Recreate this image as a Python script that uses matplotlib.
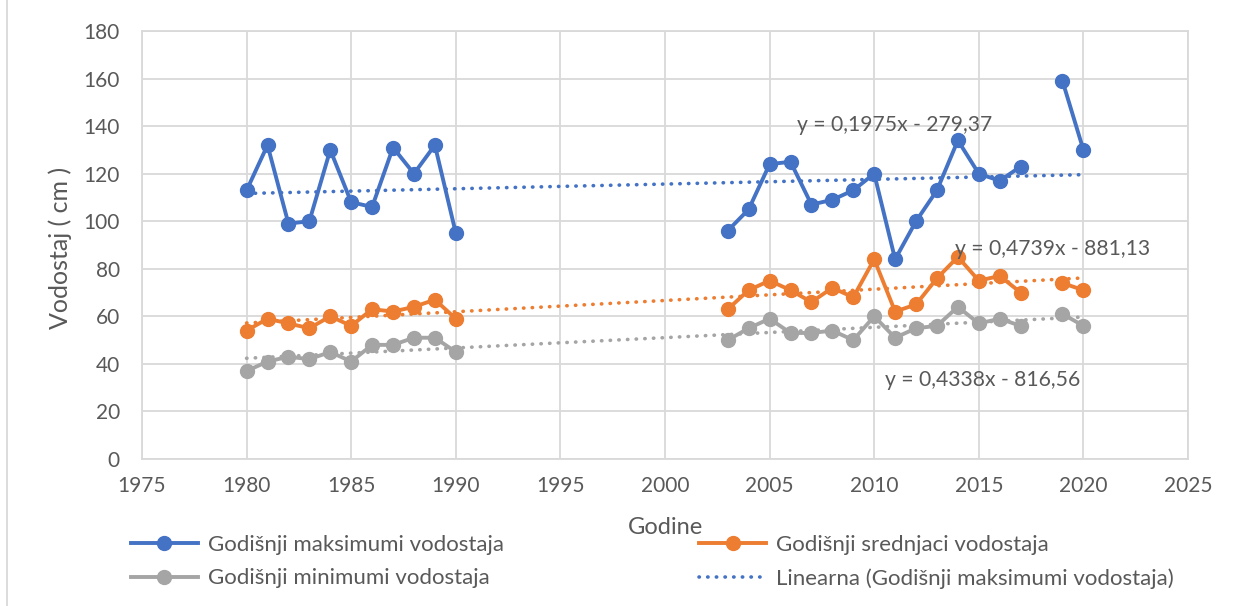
import matplotlib.pyplot as plt
from matplotlib.lines import Line2D
import numpy as np
import pandas as pd

plt.rcParams["font.family"] = ["Lato", "DejaVu Sans"]

# podaci očitani s grafa
godine = list(range(1980, 1991)) + list(range(2003, 2018)) + [2019, 2020]
maksimumi = [113, 132, 99, 100, 130, 108, 106, 131, 120, 132, 95,
             96, 105, 124, 125, 107, 109, 113, 120, 84, 100, 113, 134, 120, 117, 123,
             159, 130]
srednjaci = [54, 59, 57, 55, 60, 56, 63, 62, 64, 67, 59,
             63, 71, 75, 71, 66, 72, 68, 84, 62, 65, 76, 85, 75, 77, 70,
             74, 71]
minimumi = [37, 41, 43, 42, 45, 41, 48, 48, 51, 51, 45,
            50, 55, 59, 53, 53, 54, 50, 60, 51, 55, 56, 64, 57, 59, 56,
            61, 56]

# koeficijenti linearnih trendova (nagib, odsječak)
trend_max = (0.1975, -279.37)
trend_sred = (0.4739, -881.13)
trend_min = (0.4338, -816.56)

nazivi = ["Godišnji maksimumi vodostaja", "Godišnji srednjaci vodostaja",
          "Godišnji minimumi vodostaja", "Linearna (Godišnji maksimumi vodostaja)"]

plava = "#4472C4"
narancasta = "#ED7D31"
siva = "#A5A5A5"
tekst = "#595959"
tockasto = (0, (0.1, 2.3))

df = pd.DataFrame({"max": maksimumi, "sred": srednjaci, "min": minimumi}, index=godine)
df = df.reindex(range(min(godine), max(godine) + 1))  # praznine u nizu -> prekid linije

fig = plt.figure(figsize=(12.39, 6.06), dpi=100)
ax = fig.add_axes([142 / 1239, 1 - 459 / 606, (1188 - 142) / 1239, (459 - 31) / 606])

xt = np.array([min(godine), max(godine)])
for (k, n), c in zip([trend_max, trend_sred, trend_min], [plava, narancasta, siva]):
    ax.plot(xt, k * xt + n, color=c, linewidth=2.6, linestyle=tockasto,
            dash_capstyle="round", zorder=2)

stil = dict(linewidth=2.8, marker="o", markersize=10, zorder=3)
ax.plot(df.index, df["max"], color=plava, **stil)
ax.plot(df.index, df["sred"], color=narancasta, **stil)
ax.plot(df.index, df["min"], color=siva, **stil)

ax.set_xlim(1975, 2025)
ax.set_ylim(0, 180)
ax.set_xticks(range(1975, 2026, 5))
ax.set_yticks(range(0, 181, 20))
ax.grid(True, color="#D9D9D9", linewidth=1.3)
ax.set_axisbelow(True)
for s in ax.spines.values():
    s.set_color("#D9D9D9")
    s.set_linewidth(1.3)
ax.tick_params(length=0, labelsize=15, colors=tekst)
ax.tick_params(axis="y", pad=16)
ax.tick_params(axis="x", pad=12)

fig.text(60 / 1239, 1 - 248 / 606, "Vodostaj ( cm )", fontsize=18, color=tekst,
         rotation=90, ha="center", va="center")
fig.text(665 / 1239, 1 - 528 / 606, "Godine", fontsize=17, color=tekst,
         ha="center", va="center")

# jednadžbe trendova
ax.text(797 / 1239, 1 - 125 / 606, "y = 0,1975x - 279,37", transform=fig.transFigure,
        fontsize=15.2, color=tekst, va="center")
ax.text(955 / 1239, 1 - 249 / 606, "y = 0,4739x - 881,13", transform=fig.transFigure,
        fontsize=15.2, color=tekst, va="center")
ax.text(885 / 1239, 1 - 380 / 606, "y = 0,4338x - 816,56", transform=fig.transFigure,
        fontsize=15.2, color=tekst, va="center")

ruke = [
    Line2D([], [], color=plava, linewidth=2.8, marker="o", markersize=10),
    Line2D([], [], color=narancasta, linewidth=2.8, marker="o", markersize=10),
    Line2D([], [], color=siva, linewidth=2.8, marker="o", markersize=10),
    Line2D([], [], color=plava, linewidth=2.6, linestyle=tockasto, dash_capstyle="round"),
]
# legenda se puni po stupcima, pa redoslijed prilagođavamo
red = [0, 2, 1, 3]
fig.legend([ruke[i] for i in red], [nazivi[i] for i in red], ncol=2, loc="upper left",
           bbox_to_anchor=(131 / 1239, 1 - 535 / 606), frameon=False, fontsize=16,
           labelcolor=tekst, handlelength=3.0, handletextpad=0.45, columnspacing=8.8,
           labelspacing=0.6, borderpad=0, borderaxespad=0)

fig.add_artist(Line2D([7 / 1239, 7 / 1239], [0, 1], color="#D9D9D9", linewidth=1.3,
                      transform=fig.transFigure))

fig.savefig("out.png", dpi=100)
